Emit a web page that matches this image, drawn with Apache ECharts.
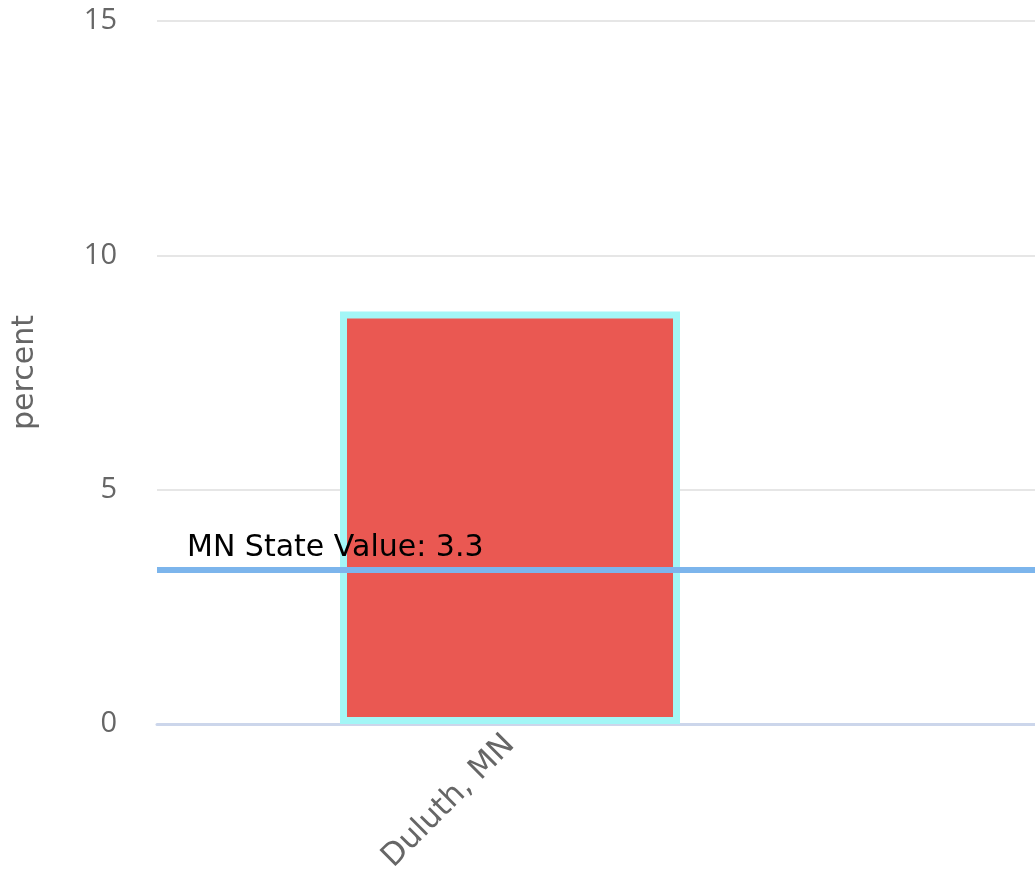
<!DOCTYPE html>
<html lang="en">
<head>
    <meta charset="UTF-8">
    <title>Duluth, MN percent</title>
    <script src="https://cdn.jsdelivr.net/npm/echarts@6/dist/echarts.min.js"></script>
    <style>
        html, body { margin: 0; padding: 0; background: #fff; }
    </style>
</head>
<body>
<div id="main" style="width: 1035px;height:896px;"></div>
<script type="text/javascript">
    // data
    var categories = ['Duluth, MN', ''];
    var values = [8.8, '-'];
    var stateLabel = 'MN State Value';
    var stateValue = 3.3;
    var yTicks = [0, 5, 10, 15];

    var myChart = echarts.init(document.getElementById('main'));

    myChart.setOption({
        animation: false,
        grid: {
            left: 157,
            top: 21,
            width: 1412,
            bottom: 172,
            containLabel: false,
            outerBoundsMode: 'none'
        },
        xAxis: {
            type: 'category',
            data: categories,
            axisLine: { lineStyle: { color: '#ccd6eb', width: 3 } },
            axisTick: { show: false },
            axisLabel: {
                rotate: 45,
                margin: 16,
                color: '#666666',
                fontFamily: 'DejaVu Sans',
                fontSize: 31
            }
        },
        yAxis: {
            type: 'value',
            min: yTicks[0],
            max: yTicks[yTicks.length - 1],
            interval: 5,
            name: 'percent',
            nameLocation: 'middle',
            nameGap: 117,
            nameMoveOverlap: false,
            nameTextStyle: {
                color: '#666666',
                fontFamily: 'DejaVu Sans',
                fontSize: 30
            },
            axisLine: { show: false },
            axisTick: { show: false },
            axisLabel: {
                margin: 40,
                color: '#666666',
                fontFamily: 'Open Sans',
                fontSize: 29
            },
            splitLine: { lineStyle: { color: '#e6e6e6', width: 2 } }
        },
        series: [{
            type: 'bar',
            data: values,
            barWidth: 340,
            itemStyle: {
                color: '#ea5852',
                borderColor: '#a3f6f6',
                borderWidth: 7
            },
            emphasis: { disabled: true },
            markLine: {
                silent: true,
                symbol: 'none',
                lineStyle: { color: '#7cb5ec', width: 6, type: 'solid' },
                label: {
                    position: 'insideStartTop',
                    distance: [30, 6],
                    formatter: stateLabel + ': ' + stateValue,
                    color: '#000000',
                    fontFamily: 'DejaVu Sans',
                    fontSize: 30
                },
                data: [{ yAxis: stateValue }]
            }
        }]
    });
</script>
</body>
</html>
